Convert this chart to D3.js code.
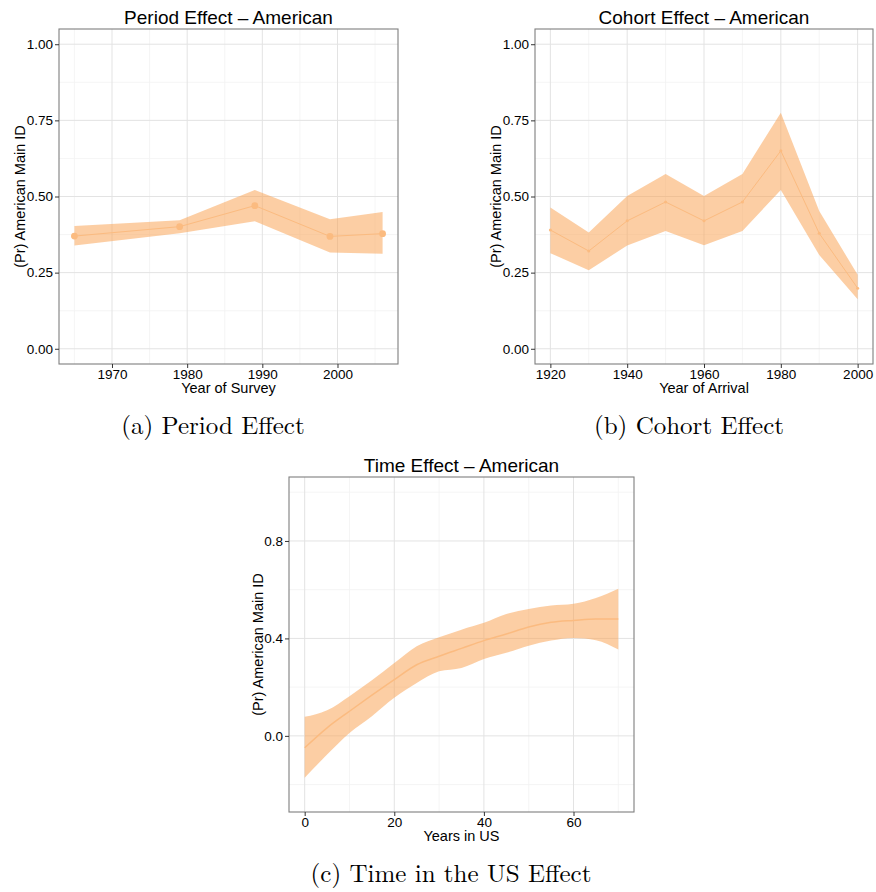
<!DOCTYPE html>
<html>
<head>
<meta charset="utf-8">
<script src="https://cdn.jsdelivr.net/npm/d3@7"></script>
<style>
  body { margin: 0; background: #fff; }
  svg text { font-family: "Liberation Sans", Arial, sans-serif; fill: #000; }
  .caption { font-family: "Latin Modern Roman", "DejaVu Serif", serif; }
</style>
</head>
<body>
<div class="canva"></div>
<script>
// period effect (year of survey)
const periodYears = [1965, 1979, 1989, 1999, 2006];
const periodMean  = [0.370, 0.401, 0.470, 0.369, 0.378];
const periodLow   = [0.339, 0.379, 0.419, 0.316, 0.312];
const periodHigh  = [0.403, 0.422, 0.521, 0.425, 0.449];

// cohort effect (year of arrival)
const cohortYears = [1920, 1930, 1940, 1950, 1960, 1970, 1980, 1990, 2000];
const cohortMean  = [0.390, 0.321, 0.420, 0.482, 0.420, 0.482, 0.650, 0.379, 0.199];
const cohortLow   = [0.314, 0.258, 0.339, 0.387, 0.340, 0.387, 0.521, 0.308, 0.163];
const cohortHigh  = [0.464, 0.382, 0.502, 0.574, 0.502, 0.574, 0.775, 0.452, 0.243];

// time in the US (years)
const timeYears = [0, 5, 10, 15, 20, 25, 30, 35, 40, 45, 50, 55, 60, 65, 70];
const timeMean  = [-0.049, 0.033, 0.101, 0.167, 0.231, 0.292, 0.327, 0.359, 0.391, 0.418, 0.447, 0.466, 0.474, 0.480, 0.480];
const timeLow   = [-0.172, -0.077, 0.012, 0.081, 0.156, 0.217, 0.265, 0.279, 0.316, 0.341, 0.370, 0.391, 0.402, 0.392, 0.354];
const timeHigh  = [0.078, 0.105, 0.163, 0.228, 0.299, 0.368, 0.405, 0.436, 0.464, 0.500, 0.521, 0.535, 0.542, 0.566, 0.604];

const yTicks01 = [0, 0.25, 0.5, 0.75, 1];
const yTicksTime = [0, 0.4, 0.8];

const ribbonFill = "#f9a65a";
const lineColor = "#fbbb80";

const svg = d3.select(".canva").append("svg")
    .attr("width", 876)
    .attr("height", 892);

function drawPanel(p) {
    const x = d3.scaleLinear().domain(p.xDomain).range([p.left, p.right]);
    const y = d3.scaleLinear().domain(p.yDomain).range([p.bottom, p.top]);
    const g = svg.append("g");

    const rows = p.xs.map((d, i) => ({x: d, m: p.mean[i], lo: p.low[i], hi: p.high[i]}));

    // minor grid
    g.selectAll(".xminor").data(p.xMinor).join("line")
        .attr("x1", d => x(d)).attr("x2", d => x(d))
        .attr("y1", p.top).attr("y2", p.bottom)
        .attr("stroke", "#f2f2f2").attr("stroke-width", 0.8);
    g.selectAll(".yminor").data(p.yMinor).join("line")
        .attr("y1", d => y(d)).attr("y2", d => y(d))
        .attr("x1", p.left).attr("x2", p.right)
        .attr("stroke", "#f2f2f2").attr("stroke-width", 0.8);
    // major grid
    g.selectAll(".xmajor").data(p.xTicks).join("line")
        .attr("x1", d => x(d)).attr("x2", d => x(d))
        .attr("y1", p.top).attr("y2", p.bottom)
        .attr("stroke", "#e3e3e3").attr("stroke-width", 1);
    g.selectAll(".ymajor").data(p.yTicks).join("line")
        .attr("y1", d => y(d)).attr("y2", d => y(d))
        .attr("x1", p.left).attr("x2", p.right)
        .attr("stroke", "#e3e3e3").attr("stroke-width", 1);

    // ribbon
    const area = d3.area()
        .x(d => x(d.x)).y0(d => y(d.lo)).y1(d => y(d.hi))
        .curve(p.curve);
    g.append("path").datum(rows)
        .attr("d", area)
        .attr("fill", ribbonFill).attr("fill-opacity", 0.55);

    // line
    const line = d3.line().x(d => x(d.x)).y(d => y(d.m)).curve(p.curve);
    g.append("path").datum(rows)
        .attr("d", line)
        .attr("fill", "none")
        .attr("stroke", lineColor).attr("stroke-width", p.lineWidth);

    if (p.pointR > 0) {
        g.selectAll(".pt").data(rows).join("circle")
            .attr("cx", d => x(d.x)).attr("cy", d => y(d.m))
            .attr("r", p.pointR)
            .attr("fill", lineColor);
    }

    // frame
    g.append("rect")
        .attr("x", p.left).attr("y", p.top)
        .attr("width", p.right - p.left).attr("height", p.bottom - p.top)
        .attr("fill", "none").attr("stroke", "#7f7f7f").attr("stroke-width", 1.1);

    // axes
    const xAxis = d3.axisBottom(x).tickValues(p.xTicks).tickFormat(p.xFormat).tickSize(4).tickPadding(1);
    const yAxis = d3.axisLeft(y).tickValues(p.yTicks).tickFormat(p.yFormat).tickSize(4).tickPadding(2);
    const gx = g.append("g").attr("transform", `translate(0, ${p.bottom})`).call(xAxis);
    const gy = g.append("g").attr("transform", `translate(${p.left}, 0)`).call(yAxis);
    [gx, gy].forEach(a => {
        a.select(".domain").remove();
        a.selectAll(".tick line").attr("stroke", "#333");
        a.selectAll(".tick text").attr("font-size", 13.5).attr("fill", "#111")
            .style("font-family", "Liberation Sans, Arial, sans-serif");
    });

    const cx = (p.left + p.right) / 2;
    g.append("text")
        .attr("x", cx).attr("y", p.top - 5)
        .attr("text-anchor", "middle").attr("font-size", 19)
        .text(p.title);
    g.append("text")
        .attr("x", cx).attr("y", p.bottom + 29)
        .attr("text-anchor", "middle").attr("font-size", 14.5)
        .text(p.xTitle);
    g.append("text")
        .attr("transform", `translate(${p.yTitleX}, ${(p.top + p.bottom) / 2}) rotate(-90)`)
        .attr("text-anchor", "middle").attr("font-size", 14.5)
        .text("(Pr) American Main ID");
    g.append("text")
        .attr("class", "caption")
        .attr("x", p.captionX).attr("y", p.captionY)
        .attr("text-anchor", "middle").attr("font-size", 25)
        .text(p.caption);
}

drawPanel({
    left: 59, right: 398, top: 29, bottom: 364,
    xDomain: [1962.95, 2008.05], yDomain: [-0.05, 1.05],
    xs: periodYears, mean: periodMean, low: periodLow, high: periodHigh,
    xTicks: [1970, 1980, 1990, 2000], xMinor: [1965, 1975, 1985, 1995, 2005],
    yTicks: yTicks01, yMinor: [0.125, 0.375, 0.625, 0.875],
    xFormat: d3.format("d"), yFormat: d3.format(".2f"),
    curve: d3.curveLinear, lineWidth: 1, pointR: 3.4,
    title: "Period Effect \u2013 American", xTitle: "Year of Survey", yTitleX: 25,
    caption: "(a) Period Effect", captionX: 213, captionY: 434
});

drawPanel({
    left: 535, right: 873, top: 29, bottom: 364,
    xDomain: [1916, 2004], yDomain: [-0.05, 1.05],
    xs: cohortYears, mean: cohortMean, low: cohortLow, high: cohortHigh,
    xTicks: [1920, 1940, 1960, 1980, 2000], xMinor: [1930, 1950, 1970, 1990],
    yTicks: yTicks01, yMinor: [0.125, 0.375, 0.625, 0.875],
    xFormat: d3.format("d"), yFormat: d3.format(".2f"),
    curve: d3.curveLinear, lineWidth: 1, pointR: 1.5,
    title: "Cohort Effect \u2013 American", xTitle: "Year of Arrival", yTitleX: 501,
    caption: "(b) Cohort Effect", captionX: 689, captionY: 434
});

drawPanel({
    left: 289, right: 634, top: 477, bottom: 812,
    xDomain: [-3.5, 73.5], yDomain: [-0.3125, 1.0625],
    xs: timeYears, mean: timeMean, low: timeLow, high: timeHigh,
    xTicks: [0, 20, 40, 60], xMinor: [10, 30, 50, 70],
    yTicks: yTicksTime, yMinor: [-0.2, 0.2, 0.6, 1.0],
    xFormat: d3.format("d"), yFormat: d3.format(".1f"),
    curve: d3.curveMonotoneX, lineWidth: 1.5, pointR: 0,
    title: "Time Effect \u2013 American", xTitle: "Years in US", yTitleX: 263,
    caption: "(c) Time in the US Effect", captionX: 451, captionY: 882
});
</script>
</body>
</html>
